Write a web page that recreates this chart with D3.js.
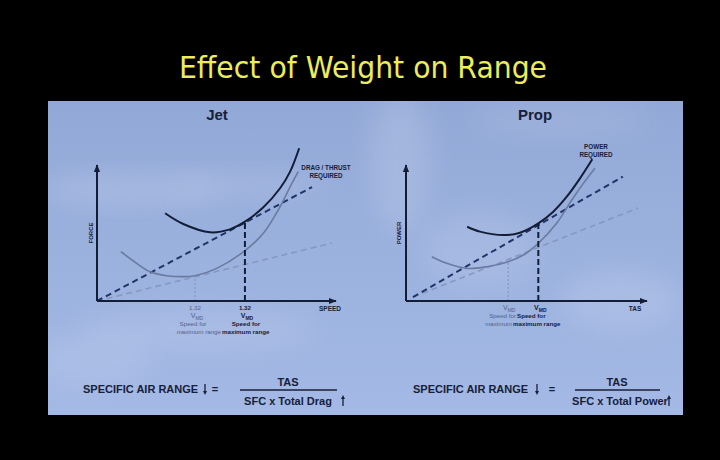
<!DOCTYPE html>
<html>
<head>
<meta charset="utf-8">
<script src="https://cdn.jsdelivr.net/npm/d3@7"></script>
<style>
  html, body { margin: 0; padding: 0; background: #000; }
  svg { display: block; }
</style>
</head>
<body>
<svg id="chart" width="720" height="460"></svg>
<script>
// ---------------- DATA ----------------
const chartTitle = "Effect of Weight on Range";
const panelTitles = ["Jet", "Prop"];

// Jet: force vs speed (arbitrary units 0..100 on each axis)
const jetHeavyDrag = [[28.5,64.5],[36.1,56.6],[47.3,50.5],[55.6,52.7],[61.9,58.3],[69.6,68.9],[76.6,82.9],[80.8,95.1],[84.6,112.3]];
const jetLightDrag = [[10.0,36.3],[16.6,27.7],[22.2,21.5],[29.2,18.6],[36.1,17.9],[41.0,18.6],[50.1,24.0],[61.9,37.0],[69.6,49.8],[76.6,69.3],[80.8,84.0],[84.2,95.1]];
const jetHeavyTangent = [[0,0],[90.0,83.8]];
const jetLightTangent = [[0,0],[98.3,42.6]];
const jetHeavyVmd = [61.9, 58.3];   // speed, force at tangent point
const jetLightVmd = [41.0, 18.6];

// Prop: power vs TAS
const propHeavyPower = [[25.4,54.6],[30.7,51.0],[40.4,48.5],[47.3,50.2],[54.9,57.1],[61.1,65.7],[66.7,76.7],[72.2,90.2],[77.3,104.2]];
const propLightPower = [[10.7,32.6],[16.9,27.7],[25.2,24.0],[33.5,25.2],[42.4,28.9],[48.7,33.8],[54.9,42.4],[62.5,57.1],[68.8,74.3],[73.6,86.5],[78.4,97.6]];
const propHeavyTangent = [[2.9,2.9],[90.0,91.5]];
const propLightTangent = [[2.9,2.9],[96.3,68.4]];
const propHeavyVmd = [54.9, 57.1];
const propLightVmd = [42.4, 28.9];

const axisLabelsX = ["SPEED", "TAS"];
const axisLabelsY = ["FORCE", "POWER"];
const curveLabels = [["DRAG / THRUST", "REQUIRED"], ["POWER", "REQUIRED"]];
const formulaLeft = ["SPECIFIC AIR RANGE", "TAS", "SFC x Total Drag"];
const formulaRight = ["SPECIFIC AIR RANGE", "TAS", "SFC x Total Power"];

// ---------------- STYLE ----------------
const C = {
  dark: "#141d36",
  light: "#6b7ba0",
  darkDash: "#22336a",
  lightDash: "#8797c2",
  labelLight: "#52628a",
  text: "#17203a"
};
const FONT = "'Liberation Sans', Arial, sans-serif";

const svg = d3.select("#chart");
const defs = svg.append("defs");

// background
svg.append("rect").attr("width", 720).attr("height", 460).attr("fill", "#000");

const grad = defs.append("linearGradient").attr("id", "bg").attr("x1", 0).attr("y1", 0).attr("x2", 0).attr("y2", 1);
grad.append("stop").attr("offset", "0%").attr("stop-color", "#92a8d6");
grad.append("stop").attr("offset", "50%").attr("stop-color", "#9bb1de");
grad.append("stop").attr("offset", "100%").attr("stop-color", "#a4b9e5");

defs.append("filter").attr("id", "blur").attr("x", "-50%").attr("y", "-50%").attr("width", "200%").attr("height", "200%")
  .append("feGaussianBlur").attr("stdDeviation", 14);
defs.append("clipPath").attr("id", "panelClip").append("rect")
  .attr("x", 48).attr("y", 101).attr("width", 635).attr("height", 314);

svg.append("rect").attr("x", 48).attr("y", 101).attr("width", 635).attr("height", 314).attr("fill", "url(#bg)");

// soft cloud texture
const clouds = [
  [130, 190, 90, 14, 0.16], [250, 185, 80, 12, 0.12], [400, 160, 30, 70, 0.14],
  [560, 120, 90, 14, 0.10], [620, 300, 60, 30, 0.12], [200, 330, 120, 20, 0.10],
  [480, 250, 60, 40, 0.10], [90, 360, 60, 25, 0.10]
];
svg.append("g").attr("clip-path", "url(#panelClip)").selectAll("ellipse").data(clouds).join("ellipse")
  .attr("cx", d => d[0]).attr("cy", d => d[1]).attr("rx", d => d[2]).attr("ry", d => d[3])
  .attr("fill", "#ffffff").attr("opacity", d => d[4]).attr("filter", "url(#blur)");

// title
svg.append("text").attr("x", 363).attr("y", 78).attr("text-anchor", "middle")
  .attr("font-family", "'DejaVu Sans', Verdana, sans-serif").attr("font-size", 31)
  .attr("fill", "#ecec5c").attr("textLength", 368).attr("lengthAdjust", "spacingAndGlyphs")
  .text(chartTitle);

// arrow marker
defs.append("marker").attr("id", "arrowHead").attr("viewBox", "0 0 10 10").attr("refX", 9).attr("refY", 5)
  .attr("markerWidth", 4).attr("markerHeight", 4).attr("orient", "auto-start-reverse").attr("markerUnits", "strokeWidth")
  .append("path").attr("d", "M0,1 L10,5 L0,9 Z").attr("fill", C.dark);

function drawPanel(cfg) {
  const g = svg.append("g");
  const x = d3.scaleLinear().domain([0, 100]).range([cfg.x0, cfg.x1]);
  const y = d3.scaleLinear().domain([0, 100]).range([301, 165]);

  // panel title
  g.append("text").attr("x", cfg.titleX).attr("y", 120).attr("text-anchor", "middle")
    .attr("font-family", FONT).attr("font-weight", "bold").attr("font-size", 15).attr("fill", C.text)
    .text(cfg.title);

  const line = d3.line().x(d => x(d[0])).y(d => y(d[1])).curve(d3.curveCatmullRom.alpha(0.5));
  const straight = d3.line().x(d => x(d[0])).y(d => y(d[1]));

  // tangent lines
  g.append("path").attr("d", straight(cfg.lightTangent)).attr("fill", "none")
    .attr("stroke", C.lightDash).attr("stroke-width", 1.6).attr("stroke-dasharray", "6,4");
  g.append("path").attr("d", straight(cfg.heavyTangent)).attr("fill", "none")
    .attr("stroke", C.darkDash).attr("stroke-width", 2).attr("stroke-dasharray", "6,4");

  // curves
  g.append("path").attr("d", line(cfg.light)).attr("fill", "none")
    .attr("stroke", C.light).attr("stroke-width", 1.6);
  g.append("path").attr("d", line(cfg.heavy)).attr("fill", "none")
    .attr("stroke", C.dark).attr("stroke-width", 2);

  // verticals
  g.append("line").attr("x1", x(cfg.lightVmd[0])).attr("x2", x(cfg.lightVmd[0]))
    .attr("y1", y(0)).attr("y2", y(cfg.lightVmd[1]))
    .attr("stroke", C.lightDash).attr("stroke-width", 1.2).attr("stroke-dasharray", "2,2");
  g.append("line").attr("x1", x(cfg.heavyVmd[0])).attr("x2", x(cfg.heavyVmd[0]))
    .attr("y1", y(0)).attr("y2", y(cfg.heavyVmd[1]))
    .attr("stroke", C.dark).attr("stroke-width", 2).attr("stroke-dasharray", "6,3");

  // axes
  const xAxis = g.append("g").attr("transform", `translate(0,${y(0)})`)
    .call(d3.axisBottom(x).tickValues([]).tickSizeOuter(0));
  xAxis.select(".domain").attr("stroke", C.dark).attr("stroke-width", 2).attr("marker-end", "url(#arrowHead)");
  const yAxis = g.append("g").attr("transform", `translate(${x(0)},0)`)
    .call(d3.axisLeft(y).tickValues([]).tickSizeOuter(0));
  yAxis.select(".domain").attr("stroke", C.dark).attr("stroke-width", 2).attr("marker-end", "url(#arrowHead)");
  // make y axis domain go upward so marker points up
  yAxis.select(".domain").attr("d", `M0,${y(0)}V${y(100)}`);
  xAxis.select(".domain").attr("d", `M${x(0)},0H${x(100)}`);

  // axis labels
  g.append("text").attr("x", cfg.xLabelX).attr("y", 311).attr("text-anchor", "middle")
    .attr("font-family", FONT).attr("font-weight", "bold").attr("font-size", 6.5).attr("fill", C.text)
    .text(cfg.xLabel);
  g.append("text").attr("transform", `translate(${cfg.yLabelX},233) rotate(-90)`).attr("text-anchor", "middle")
    .attr("font-family", FONT).attr("font-weight", "bold").attr("font-size", 6).attr("fill", C.text)
    .text(cfg.yLabel);

  // curve label
  cfg.curveLabel.forEach((t, i) => {
    g.append("text").attr("x", cfg.curveLabelX).attr("y", cfg.curveLabelY + i * 8).attr("text-anchor", "middle")
      .attr("font-family", FONT).attr("font-weight", "bold").attr("font-size", 6.3).attr("fill", C.text).text(t);
  });

  return { g, x, y };
}

function vmdLabel(g, cx, yTop, bold, anchor) {
  const t = g.append("text").attr("x", cx).attr("y", yTop).attr("text-anchor", anchor || "middle")
    .attr("font-family", FONT).attr("font-weight", bold ? "bold" : "normal")
    .attr("font-size", 7).attr("fill", bold ? C.text : C.labelLight);
  t.append("tspan").text("V");
  t.append("tspan").attr("font-size", 5).attr("dy", 1.5).text("MD");
}

function smallText(g, x, y, txt, bold, anchor) {
  g.append("text").attr("x", x).attr("y", y).attr("text-anchor", anchor || "middle")
    .attr("font-family", FONT).attr("font-weight", bold ? "bold" : "normal")
    .attr("font-size", 6.2).attr("fill", bold ? C.text : C.labelLight).text(txt);
}

// ---------- Jet ----------
const jet = drawPanel({
  title: panelTitles[0], titleX: 217, x0: 97, x1: 336,
  heavy: jetHeavyDrag, light: jetLightDrag,
  heavyTangent: jetHeavyTangent, lightTangent: jetLightTangent,
  heavyVmd: jetHeavyVmd, lightVmd: jetLightVmd,
  xLabel: axisLabelsX[0], xLabelX: 330, yLabel: axisLabelsY[0], yLabelX: 93,
  curveLabel: curveLabels[0], curveLabelX: 326, curveLabelY: 170
});
{
  const lx = jet.x(jetLightVmd[0]), hx = jet.x(jetHeavyVmd[0]);
  smallText(jet.g, lx, 310, "1.32", false);
  smallText(jet.g, hx, 310, "1.32", true);
  vmdLabel(jet.g, lx + 2, 318, false);
  vmdLabel(jet.g, hx + 2, 318, true);
  smallText(jet.g, lx - 2, 326, "Speed for", false);
  smallText(jet.g, hx + 1, 326, "Speed for", true);
  smallText(jet.g, 221, 334, "maximum range", false, "end");
  smallText(jet.g, 222, 334, "maximum range", true, "start");
}

// ---------- Prop ----------
const prop = drawPanel({
  title: panelTitles[1], titleX: 535, x0: 406, x1: 647,
  heavy: propHeavyPower, light: propLightPower,
  heavyTangent: propHeavyTangent, lightTangent: propLightTangent,
  heavyVmd: propHeavyVmd, lightVmd: propLightVmd,
  xLabel: axisLabelsX[1], xLabelX: 635, yLabel: axisLabelsY[1], yLabelX: 401,
  curveLabel: curveLabels[1], curveLabelX: 596, curveLabelY: 149
});
{
  const lx = prop.x(propLightVmd[0]), hx = prop.x(propHeavyVmd[0]);
  vmdLabel(prop.g, lx + 1, 310, false);
  vmdLabel(prop.g, hx + 2, 310, true);
  smallText(prop.g, 516, 318, "Speed for", false, "end");
  smallText(prop.g, 517, 318, "Speed for", true, "start");
  smallText(prop.g, 512, 326, "maximum", false, "end");
  smallText(prop.g, 513, 326, "maximum range", true, "start");
}

// ---------- Formulas ----------
function arrow(x, yTop, yBot, down) {
  const g = svg.append("g");
  const tip = down ? yBot : yTop;
  const tail = down ? yTop : yBot;
  g.append("line").attr("x1", x).attr("x2", x).attr("y1", tail).attr("y2", down ? tip - 3 : tip + 3)
    .attr("stroke", C.text).attr("stroke-width", 1.3);
  const s = down ? -1 : 1;
  g.append("path").attr("d", `M${x - 2},${tip + s * 4} L${x},${tip} L${x + 2},${tip + s * 4} Z`).attr("fill", C.text);
}

function formula(parts, cfg) {
  const f = svg.append("g").attr("font-family", FONT).attr("font-weight", "bold").attr("fill", C.text);
  f.append("text").attr("x", cfg.sx).attr("y", 393).attr("font-size", 11).text(parts[0]);
  arrow(cfg.downX, 384, 395, true);
  f.append("text").attr("x", cfg.eqX).attr("y", 393).attr("text-anchor", "middle").attr("font-size", 11).text("=");
  f.append("line").attr("x1", cfg.l0).attr("x2", cfg.l1).attr("y1", 390).attr("y2", 390)
    .attr("stroke", C.text).attr("stroke-width", 1.6);
  f.append("text").attr("x", cfg.tasX).attr("y", 386).attr("text-anchor", "middle").attr("font-size", 11).text(parts[1]);
  f.append("text").attr("x", cfg.denX).attr("y", 405).attr("text-anchor", "middle").attr("font-size", 11).text(parts[2]);
  arrow(cfg.upX, 395, 406, false);
}

formula(formulaLeft, { sx: 83, downX: 205, eqX: 215, l0: 240, l1: 337, tasX: 288, denX: 288, upX: 343 });
formula(formulaRight, { sx: 413, downX: 537, eqX: 552, l0: 575, l1: 660, tasX: 617, denX: 620, upX: 669 });
</script>
</body>
</html>
